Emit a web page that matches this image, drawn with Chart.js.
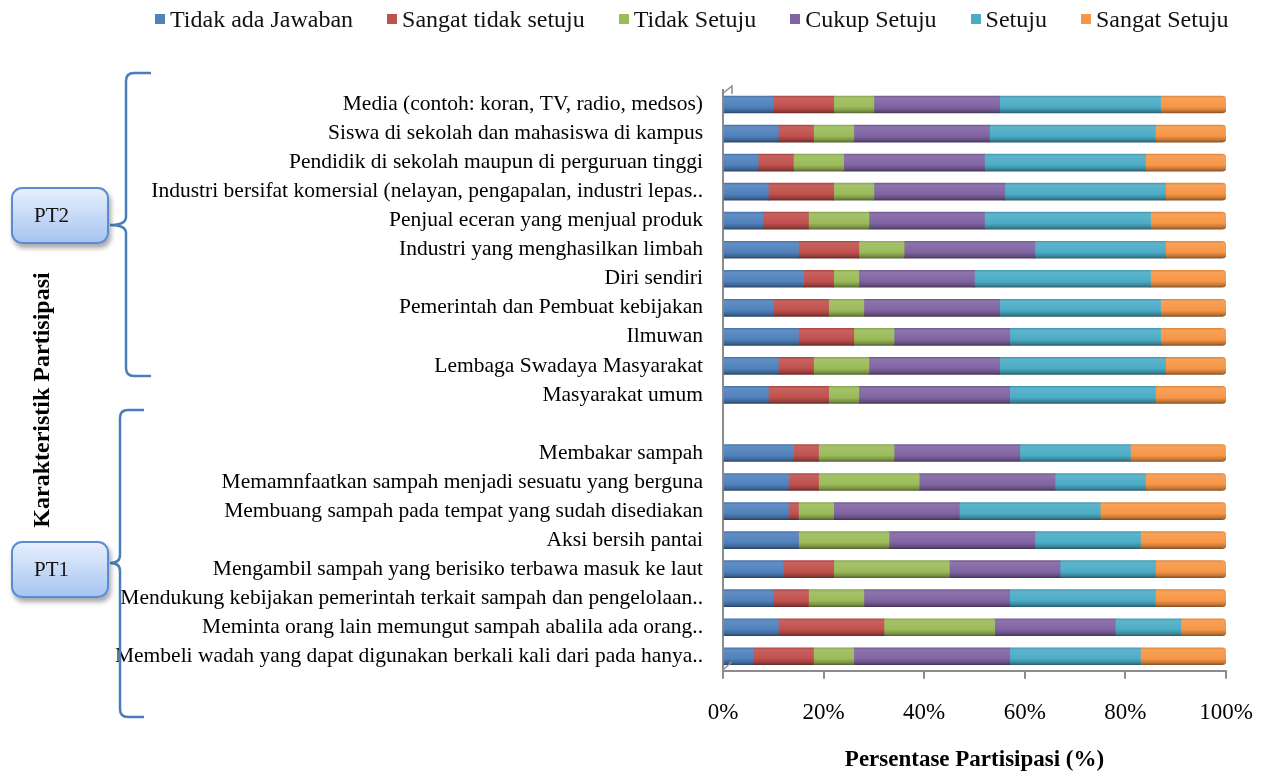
<!DOCTYPE html>
<html>
<head>
<meta charset="utf-8">
<script src="https://cdn.jsdelivr.net/npm/chart.js@4.4.1/dist/chart.umd.min.js"></script>
<style>
  body { margin: 0; background: #fff; }
  #wrap { position: relative; width: 1268px; height: 774px; }
  #legend { position: absolute; left: 155px; top: 6px; display: flex; font: 24px "Liberation Serif", serif; line-height: 26px; color: #111; white-space: nowrap; }
  #legend .item { display: flex; align-items: center; margin-right: 34px; }
  #legend .sw { width: 10px; height: 10px; margin-right: 5px; }
  .pt { position: absolute; left: 11px; width: 98px; height: 57px; box-sizing: border-box;
        border: 2px solid #5b8bd0; border-radius: 11px; background: linear-gradient(#e6effd, #a7c5f0);
        box-shadow: 2px 4px 5px rgba(0,0,0,0.35); font: 21px "Liberation Serif", serif;
        line-height: 53px; padding-left: 21px; color: #111; }
</style>
</head>
<body>
<div id="wrap">
  <canvas id="chart" width="1268" height="774"></canvas>
  <div id="legend"></div>
  <div class="pt" style="top:187px">PT2</div>
  <div class="pt" style="top:541px">PT1</div>
</div>
<script>
// categories top to bottom, '' is the empty row between PT2 and PT1
const categories = [
  'Media (contoh: koran, TV, radio, medsos)',
  'Siswa di sekolah dan mahasiswa di kampus',
  'Pendidik di sekolah maupun di perguruan tinggi',
  'Industri bersifat komersial (nelayan, pengapalan, industri lepas..',
  'Penjual eceran yang menjual produk',
  'Industri yang menghasilkan limbah',
  'Diri sendiri',
  'Pemerintah dan Pembuat kebijakan',
  'Ilmuwan',
  'Lembaga Swadaya Masyarakat',
  'Masyarakat umum',
  '',
  'Membakar sampah',
  'Memamnfaatkan sampah menjadi sesuatu yang berguna',
  'Membuang sampah pada tempat yang sudah disediakan',
  'Aksi bersih pantai',
  'Mengambil sampah yang berisiko terbawa masuk ke laut',
  'Mendukung kebijakan pemerintah terkait sampah dan pengelolaan..',
  'Meminta orang lain memungut sampah abalila ada orang..',
  'Membeli wadah yang dapat digunakan berkali kali dari pada hanya..'
];

const seriesNames = ['Tidak ada Jawaban', 'Sangat tidak setuju', 'Tidak Setuju', 'Cukup Setuju', 'Setuju', 'Sangat Setuju'];
const seriesColors = ['#4F81BD', '#C0504D', '#9BBB59', '#8064A2', '#4BACC6', '#F79646'];

const tidakAdaJawaban  = [10, 11, 7, 9, 8, 15, 16, 10, 15, 11, 9, null, 14, 13, 13, 15, 12, 10, 11, 6];
const sangatTidakSetuju = [12, 7, 7, 13, 9, 12, 6, 11, 11, 7, 12, null, 5, 6, 2, 0, 10, 7, 21, 12];
const tidakSetuju      = [8, 8, 10, 8, 12, 9, 5, 7, 8, 11, 6, null, 15, 20, 7, 18, 23, 11, 22, 8];
const cukupSetuju      = [25, 27, 28, 26, 23, 26, 23, 27, 23, 26, 30, null, 25, 27, 25, 29, 22, 29, 24, 31];
const setuju           = [32, 33, 32, 32, 33, 26, 35, 32, 30, 33, 29, null, 22, 18, 28, 21, 19, 29, 13, 26];
const sangatSetuju     = [13, 14, 16, 12, 15, 12, 15, 13, 13, 12, 14, null, 19, 16, 25, 17, 14, 14, 9, 17];

const xTickLabels = ['0%', '20%', '40%', '60%', '80%', '100%'];

const BAR = 17;
const serif = '"Liberation Serif", "Times New Roman", serif';

function mix(hex, target, t) {
  const a = parseInt(hex.slice(1), 16), b = parseInt(target.slice(1), 16);
  const ch = (v, s) => (v >> s) & 255;
  const r = Math.round(ch(a, 16) + (ch(b, 16) - ch(a, 16)) * t);
  const g = Math.round(ch(a, 8) + (ch(b, 8) - ch(a, 8)) * t);
  const bl = Math.round(ch(a, 0) + (ch(b, 0) - ch(a, 0)) * t);
  return `rgb(${r},${g},${bl})`;
}

// cylinder-ish look: vertical gradient across each bar
function cylinder(base) {
  return ctx => {
    const y = ctx.chart.scales.y;
    if (ctx.type !== 'data' || !y) return base;
    const py = y.getPixelForValue(ctx.dataIndex);
    if (!isFinite(py)) return base;
    const g = ctx.chart.ctx.createLinearGradient(0, py - BAR / 2, 0, py + BAR / 2);
    g.addColorStop(0, mix(base, '#000000', 0.1));
    g.addColorStop(0.12, mix(base, '#ffffff', 0.1));
    g.addColorStop(0.35, mix(base, '#ffffff', 0.06));
    g.addColorStop(0.65, base);
    g.addColorStop(0.88, mix(base, '#000000', 0.22));
    g.addColorStop(1, mix(base, '#000000', 0.45));
    return g;
  };
}

const seriesValues = [tidakAdaJawaban, sangatTidakSetuju, tidakSetuju, cukupSetuju, setuju, sangatSetuju];

const datasets = seriesNames.map((name, i) => ({
  label: name,
  data: seriesValues[i],
  backgroundColor: cylinder(seriesColors[i]),
  borderWidth: 0,
  borderRadius: 4,
  barThickness: BAR
}));

// legend as html
const legendEl = document.getElementById('legend');
seriesNames.forEach((name, i) => {
  const item = document.createElement('div');
  item.className = 'item';
  item.innerHTML = `<span class="sw" style="background:${seriesColors[i]}"></span><span>${name}</span>`;
  legendEl.appendChild(item);
});

function brace(c, x, top, bottom, mid, tipX, stubX) {
  const r = 8;
  c.beginPath();
  c.moveTo(stubX, top);
  c.lineTo(x + r, top);
  c.quadraticCurveTo(x, top, x, top + r);
  c.lineTo(x, mid - r);
  c.quadraticCurveTo(x, mid, tipX, mid);
  c.quadraticCurveTo(x, mid, x, mid + r);
  c.lineTo(x, bottom - r);
  c.quadraticCurveTo(x, bottom, x + r, bottom);
  c.lineTo(stubX, bottom);
  c.stroke();
}

const decorations = {
  id: 'decorations',
  afterDraw(chart) {
    const c = chart.ctx;
    const area = chart.chartArea;
    c.save();
    c.strokeStyle = '#4a7ebb';
    c.lineWidth = 2.5;
    brace(c, 126, 73, 376, 225, 110, 151);
    brace(c, 120, 410, 717, 563, 110, 144);

    // small 3D wall corners
    c.strokeStyle = '#8c8c8c';
    c.lineWidth = 1.5;
    c.beginPath();
    c.moveTo(area.left - 1, area.top + 4);
    c.lineTo(area.left + 9, area.top - 4);
    c.lineTo(area.left + 9, area.top + 4);
    c.moveTo(area.left, area.bottom - 1);
    c.lineTo(area.left + 9, area.bottom - 9);
    c.stroke();

    // y axis title
    c.fillStyle = '#000';
    c.font = 'bold 24px ' + serif;
    c.textAlign = 'center';
    c.textBaseline = 'middle';
    c.translate(43, 400);
    c.rotate(-Math.PI / 2);
    c.fillText('Karakteristik Partisipasi', 0, 0);
    c.restore();
  }
};

new Chart(document.getElementById('chart'), {
  type: 'bar',
  data: { labels: categories, datasets },
  options: {
    indexAxis: 'y',
    responsive: false,
    animation: false,
    layout: { padding: { top: 90, right: 42, bottom: 0, left: 0 } },
    plugins: {
      legend: { display: false },
      tooltip: { enabled: false }
    },
    scales: {
      x: {
        type: 'linear',
        stacked: true,
        min: 0,
        max: 100,
        afterFit: s => { s.paddingLeft = 0; s.paddingRight = 0; },
        ticks: {
          stepSize: 20,
          padding: 20,
          color: '#000',
          font: { family: serif, size: 23 },
          callback: v => xTickLabels[v / 20]
        },
        grid: { drawOnChartArea: false, drawTicks: true, tickLength: 8, color: '#8c8c8c', lineWidth: 2 },
        border: { color: '#8c8c8c', width: 2 },
        title: {
          display: true,
          text: 'Persentase Partisipasi (%)',
          color: '#000',
          font: { family: serif, size: 23, weight: 'bold' },
          padding: { top: 0, bottom: 0 }
        }
      },
      y: {
        stacked: true,
        afterFit: s => { s.width = 723; },
        ticks: {
          padding: 12,
          color: '#000',
          font: { family: serif, size: 21.5 },
          autoSkip: false
        },
        grid: { display: false },
        border: { color: '#8c8c8c', width: 2 }
      }
    }
  },
  plugins: [decorations]
});
</script>
</body>
</html>
